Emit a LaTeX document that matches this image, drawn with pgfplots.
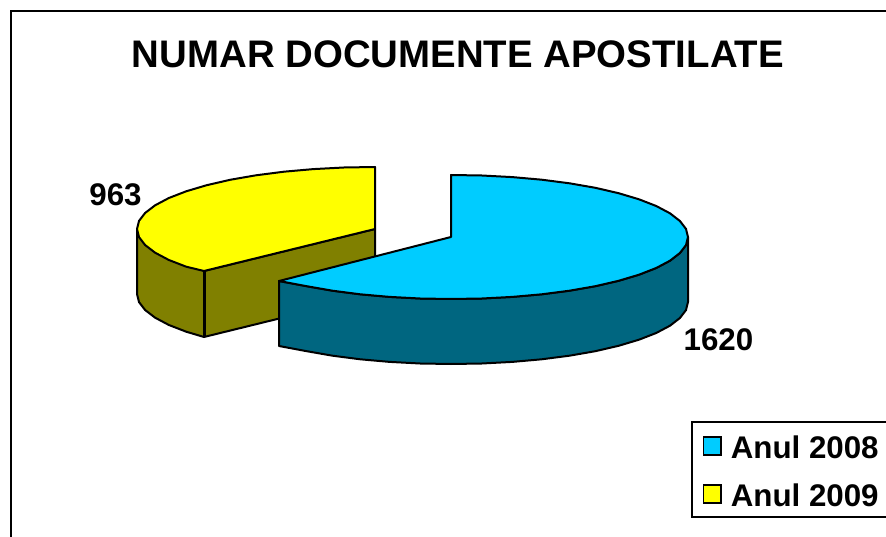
\documentclass[border=0pt]{standalone}
\usepackage{fontspec}
\setmainfont{Liberation Sans}
\usepackage{pgfplots}
\pgfplotsset{compat=1.18}

\definecolor{blueTop}{HTML}{00CCFF}
\definecolor{blueSide}{HTML}{006680}
\definecolor{yellowTop}{HTML}{FFFF00}
\definecolor{yellowSide}{HTML}{808000}

\pgfplotsset{
  slice/.style={draw=black, line width=2pt, line join=round, forget plot, mark=none},
  square swatch/.style={legend image code/.code={
    \draw[#1, draw=black, line width=1.8pt] (-0.5pt,-9.5pt) rectangle (17pt,8pt);}},
}

\begin{document}
\begin{tikzpicture}
\useasboundingbox (0,0) rectangle (886pt,537pt);
\begin{axis}[
  scale only axis,
  width=886pt, height=537pt,
  xmin=0, xmax=886, ymin=0, ymax=537,
  y dir=reverse,
  hide axis,
  clip=false,
  legend cell align=left,
  legend style={
    at={(axis cs:690.5,421)}, anchor=north west,
    draw=black, line width=2pt,
    font=\fontsize{31.3}{33}\selectfont\bfseries,
    inner xsep=11pt, inner ysep=8pt,
    nodes={text height=26.5pt, text depth=0pt},
    /tikz/every odd column/.append style={column sep=7pt},
    row sep=17.5pt,
  },
]
% chart frame, open at the right and at the bottom
\addplot[draw=black, line width=1.8pt, forget plot, mark=none]
  coordinates {(11,537) (11,11) (886,11)};

% Anul 2009 (963): wall
\addplot[slice, fill=yellowSide] coordinates {
  (137,229) (137,294) (139,302.1) (145.1,310) (155.1,317.7) (168.9,325) (186.2,331.7) (204,337)
  (375,295) (375,229) (204,271)
} --cycle;
\addplot[slice, line width=3pt] coordinates {(204,271) (204,337)};
% Anul 2009: top
\addplot[slice, fill=yellowTop] coordinates {
  (375,229) (375,167) (344,167.5) (313.4,169.1) (283.9,171.7) (256,175.3) (230.1,179.8)
  (206.7,185.2) (186.2,191.3) (168.9,198) (155.1,205.3) (145.1,213) (139,220.9) (137,229)
  (139,237.1) (145.1,245) (155.1,252.7) (168.9,260) (186.2,266.7) (204,271)
} --cycle;

% Anul 2008 (1620): wall
\addplot[slice, fill=blueSide] coordinates {
  (688,237) (688,302) (686,310.1) (679.9,318) (670,325.7) (656.2,333) (639,339.7) (618.6,345.8)
  (595.3,351.2) (569.5,355.7) (541.7,359.3) (512.3,361.9) (481.9,363.5) (451,364)
  (420.1,363.5) (389.7,361.9) (360.3,359.3) (332.5,355.7) (306.7,351.2) (279,346)
  (279,281) (306.7,286.2) (332.5,290.7) (360.3,294.3) (389.7,296.9) (420.1,298.5) (451,299)
  (481.9,298.5) (512.3,296.9) (541.7,294.3) (569.5,290.7) (595.3,286.2) (618.6,280.8)
  (639,274.7) (656.2,268) (670,260.7) (679.9,253) (686,245.1)
} --cycle;
% Anul 2008: top
\addplot[slice, fill=blueTop] coordinates {
  (451,237) (451,175) (481.9,175.5) (512.3,177.1) (541.7,179.7) (569.5,183.3) (595.3,187.8)
  (618.6,193.2) (639,199.3) (656.2,206) (670,213.3) (679.9,221) (686,228.9) (688,237)
  (686,245.1) (679.9,253) (670,260.7) (656.2,268) (639,274.7) (618.6,280.8) (595.3,286.2)
  (569.5,290.7) (541.7,294.3) (512.3,296.9) (481.9,298.5) (451,299) (420.1,298.5)
  (389.7,296.9) (360.3,294.3) (332.5,290.7) (306.7,286.2) (279,281)
} --cycle;

\addlegendimage{square swatch={fill=blueTop}}
\addlegendentry{Anul 2008}
\addlegendimage{square swatch={fill=yellowTop}}
\addlegendentry{Anul 2009}

\node[font=\fontsize{38.4}{40}\selectfont\bfseries] at (axis cs:458,54) {NUMAR DOCUMENTE APOSTILATE};
\node[font=\fontsize{31.3}{33}\selectfont\bfseries] at (axis cs:115.5,195) {963};
\node[font=\fontsize{31.3}{33}\selectfont\bfseries] at (axis cs:718.5,340) {1620};
\end{axis}
\end{tikzpicture}
\end{document}
